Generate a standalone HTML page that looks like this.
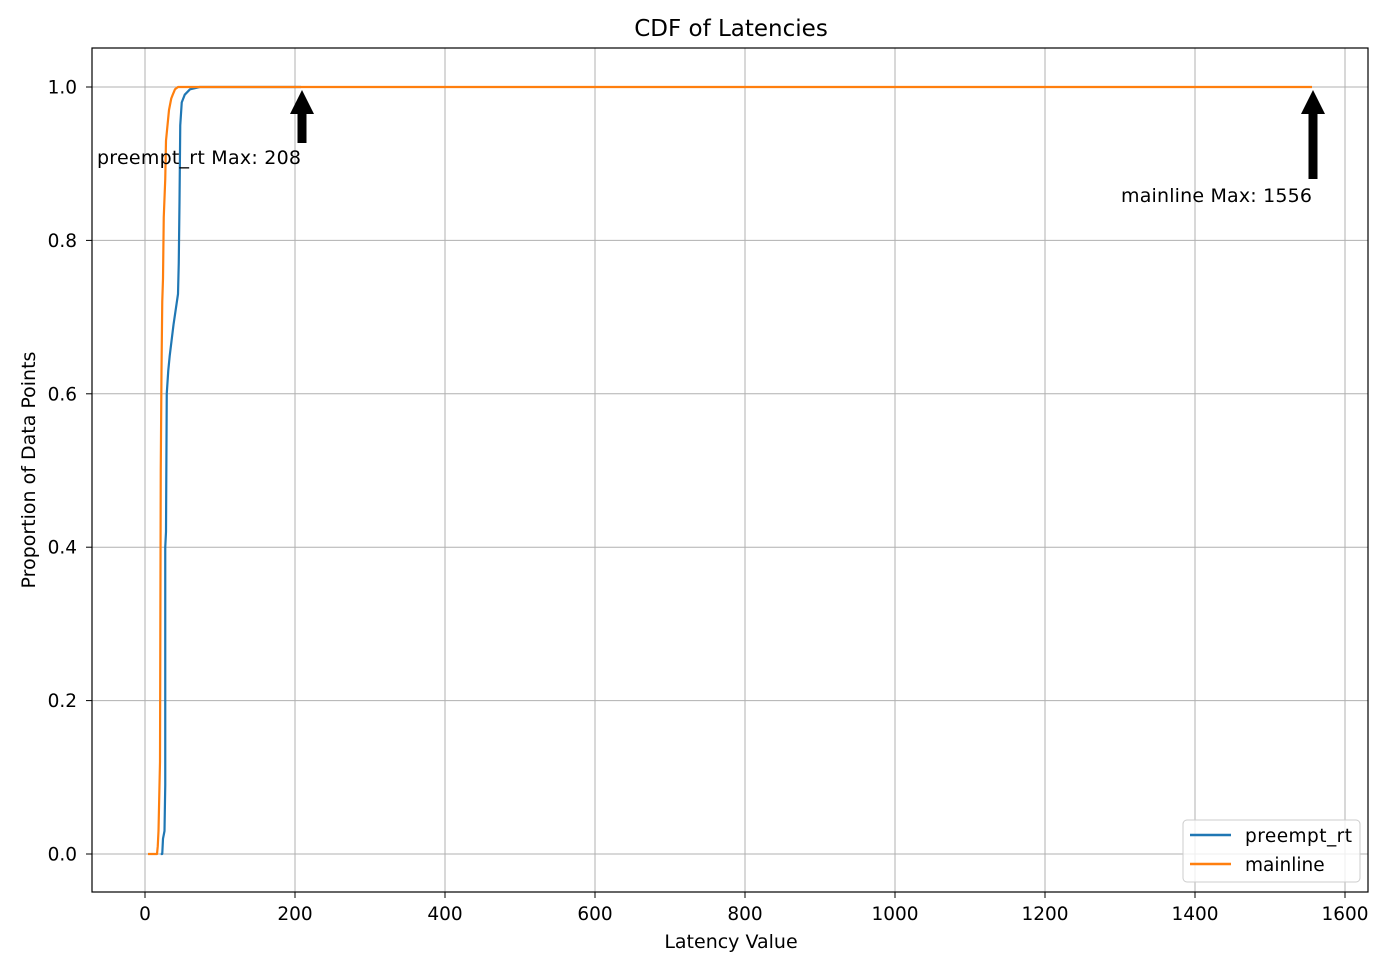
<!DOCTYPE html>
<html><head><meta charset="utf-8"><style>
body{margin:0;background:#fff;}
svg text{font-family:"DejaVu Sans","Liberation Sans",sans-serif;}
</style></head><body>
<svg id="chart" width="1385" height="972" xmlns="http://www.w3.org/2000/svg">
<rect width="1385" height="972" fill="#fff"/>
<g id="grid"></g>
<g id="ticks"></g>
<g id="series"></g>
<rect x="92" y="48" width="1276" height="844" fill="none" stroke="#000" stroke-width="1.2"/>
<text x="731" y="36" font-size="23" text-anchor="middle">CDF of Latencies</text>
<text x="731" y="948" font-size="19" text-anchor="middle">Latency Value</text>
<text transform="translate(35,470) rotate(-90)" font-size="19" text-anchor="middle">Proportion of Data Points</text>
<g id="annots"></g>
<g>
<rect x="1183" y="820" width="177" height="62" rx="4" fill="#fff" fill-opacity="0.8" stroke="#ccc"/>
<line x1="1190" y1="835" x2="1231" y2="835" stroke="#1f77b4" stroke-width="2.5"/>
<text x="1245" y="842" font-size="18.5" textLength="107">preempt_rt</text>
<line x1="1190" y1="864" x2="1231" y2="864" stroke="#ff7f0e" stroke-width="2.5"/>
<text x="1245" y="871" font-size="18.5">mainline</text>
</g>
</svg>
<script>
const xTicks=[0,200,400,600,800,1000,1200,1400,1600];
const yTicks=[0.0,0.2,0.4,0.6,0.8,1.0];
const rtX=[21,23,24,26,27,27,28,29,31,33,38,44,45,46,47,49,53,60,73,208];
const rtY=[0,0,0.02,0.03,0.09,0.4,0.42,0.6,0.63,0.65,0.69,0.73,0.77,0.85,0.95,0.98,0.99,0.997,1.0,1.0];
const mlX=[4,16,17,18,20,21,22,23,24,25,27,28,30,32,35,37,40,44,1556];
const mlY=[0,0,0.01,0.03,0.12,0.5,0.63,0.72,0.75,0.83,0.88,0.93,0.95,0.97,0.985,0.99,0.997,1.0,1.0];
const maxLabels=["preempt_rt Max: 208","mainline Max: 1556"];
const maxVals=[208,1556];
const X=v=>145+v*0.75, Y=p=>854-p*767;
const NS="http://www.w3.org/2000/svg";
function mk(t,a,p){const e=document.createElementNS(NS,t);for(const k in a)e.setAttribute(k,a[k]);p.appendChild(e);return e;}
const grid=document.getElementById('grid'),ticks=document.getElementById('ticks');
xTicks.forEach(v=>{
 const l=mk('line',{x1:X(v),x2:X(v),y1:48,y2:892,stroke:'#b0b0b0','stroke-width':1},grid);
 
 
 mk('line',{x1:X(v),x2:X(v),y1:892,y2:898,stroke:'#000'},ticks);
 const t=mk('text',{x:X(v),y:920,'font-size':18.5,'text-anchor':'middle'},ticks);t.textContent=v;
 
 
});
yTicks.forEach(v=>{
 const l=mk('line',{x1:92,x2:1368,y1:Y(v),y2:Y(v),stroke:'#b0b0b0','stroke-width':1},grid);
 
 
 mk('line',{x1:86,x2:92,y1:Y(v),y2:Y(v),stroke:'#000'},ticks);
 const t=mk('text',{x:77,y:Y(v)+6.5,'font-size':18.5,'text-anchor':'end'},ticks);t.textContent=v.toFixed(1);
 
 
});
const s=document.getElementById('series');
function line(xs,ys,c,n){const p=mk('polyline',{points:xs.map((x,i)=>X(x)+','+Y(ys[i])).join(' '),fill:'none',stroke:c,'stroke-width':2.2,'stroke-linejoin':'round'},s);
 
 }
line(rtX,rtY,'#1f77b4','preempt-rt-line');
line(mlX,mlY,'#ff7f0e','mainline-line');
const an=document.getElementById('annots');
const arrowLen=[53,89],labelPos=[[97,164],[1121,202]];
maxVals.forEach((v,i)=>{
 const x=X(v)+1,tip=Y(1)+3,b=tip+arrowLen[i];
 const a=mk('polygon',{points:`${x},${tip} ${x+12},${tip+24} ${x+4.5},${tip+24} ${x+4.5},${b} ${x-4.5},${b} ${x-4.5},${tip+24} ${x-12},${tip+24}`,fill:'#000'},an);
 
 
 const t=mk('text',{x:labelPos[i][0],y:labelPos[i][1],'font-size':19,'textLength':i==0?204:191},an);t.textContent=maxLabels[i];
 
 
});
</script>
</body></html>
